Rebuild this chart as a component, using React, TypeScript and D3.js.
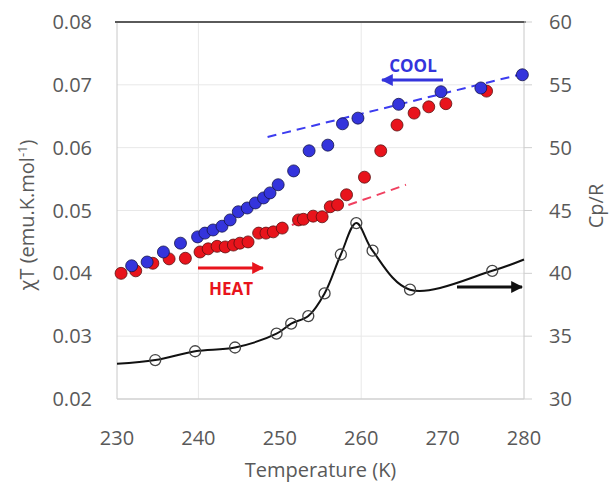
import React from "react";
import * as d3 from "d3";

// Heating (red) χT data: [T (K), χT]
const heatT = [230.5, 232.3, 234.4, 236.4, 238.4, 240.2, 241.2, 242.3, 243.3, 244.3, 245.1, 246.1, 247.4, 248.3, 249.2, 250.3, 252.3, 252.9, 254.1, 255.2, 256.2, 257.1, 258.2, 260.4, 262.4, 264.4, 266.5, 268.3, 270.4, 275.4];
const heatChi = [0.0400, 0.0404, 0.0416, 0.0423, 0.0424, 0.0434, 0.0439, 0.0443, 0.0442, 0.0445, 0.0448, 0.0450, 0.0464, 0.0464, 0.0466, 0.0472, 0.0485, 0.0486, 0.0491, 0.0490, 0.0506, 0.0509, 0.0525, 0.0553, 0.0595, 0.0636, 0.0655, 0.0665, 0.0670, 0.0690];

// Cooling (blue) χT data
const coolT = [231.8, 233.7, 235.7, 237.8, 239.9, 240.8, 241.8, 242.9, 243.9, 244.9, 246.0, 247.0, 248.0, 248.8, 249.8, 251.7, 253.6, 255.9, 257.7, 259.6, 264.6, 269.8, 274.7, 279.8];
const coolChi = [0.0412, 0.0418, 0.0434, 0.0448, 0.0458, 0.0464, 0.0469, 0.0475, 0.0485, 0.0498, 0.0504, 0.0512, 0.0520, 0.0528, 0.0541, 0.0563, 0.0595, 0.0604, 0.0638, 0.0647, 0.0669, 0.0689, 0.0695, 0.0716];

// Heat capacity Cp/R (open circles)
const cpT = [234.7, 239.6, 244.5, 249.6, 251.4, 253.5, 255.5, 257.5, 259.4, 261.4, 266.0, 276.1];
const cpVal = [33.1, 33.8, 34.1, 35.2, 36.0, 36.6, 38.4, 41.5, 44.0, 41.8, 38.7, 40.2];
// Fitted Cp curve end values
const cpCurveStart = [230, 32.8];
const cpCurveEnd = [280, 41.1];

// Dashed linear guides [T, χT]
const coolFit = [[248.5, 0.0617], [280, 0.0718]];
const heatFit = [[248, 0.0461], [265.5, 0.0541]];

const xTicks = [230, 240, 250, 260, 270, 280];
const yLTicks = [0.02, 0.03, 0.04, 0.05, 0.06, 0.07, 0.08];
const yRTicks = [30, 35, 40, 45, 50, 55, 60];
const xGrid = [240, 260];

const W = 610, H = 483;
const L = 117, R = 524, T = 22, B = 399;
const FONT = "'Open Sans', sans-serif";
const TXT = "#595959";

export default function App() {
  const x = d3.scaleLinear().domain([230, 280]).range([L, R]);
  const yL = d3.scaleLinear().domain([0.02, 0.08]).range([B, T]);
  const yR = d3.scaleLinear().domain([30, 60]).range([B, T]);

  const cpPts: [number, number][] = [cpCurveStart as [number, number], ...cpT.map((t, i) => [t, cpVal[i]] as [number, number]), cpCurveEnd as [number, number]];
  const cpLine = d3.line<[number, number]>().x(d => x(d[0])).y(d => yR(d[1])).curve(d3.curveCatmullRom.alpha(0.5))(cpPts) || "";
  const fitLine = d3.line<number[]>().x(d => x(d[0])).y(d => yL(d[1]));

  const blue = "#3434dc";
  const red = "#e8141c";

  return (
    <svg width={W} height={H} style={{ position: "absolute", left: 0, top: 0, background: "#fff" }}>
      <defs>
        <marker id="ab" viewBox="0 0 10 10" refX="9" refY="5" markerWidth="4" markerHeight="4" orient="auto-start-reverse">
          <path d="M0,0 L10,5 L0,10 z" fill={blue} />
        </marker>
        <marker id="ar" viewBox="0 0 10 10" refX="9" refY="5" markerWidth="4" markerHeight="4" orient="auto">
          <path d="M0,0 L10,5 L0,10 z" fill={red} />
        </marker>
        <marker id="ak" viewBox="0 0 10 10" refX="9" refY="5" markerWidth="4" markerHeight="4" orient="auto">
          <path d="M0,0 L10,5 L0,10 z" fill="#111" />
        </marker>
      </defs>
      {/* grid */}
      {yLTicks.slice(1, -1).map(v => (
        <line key={"gy" + v} x1={L} x2={R} y1={yL(v)} y2={yL(v)} stroke="#e8e8e8" strokeWidth={1} />
      ))}
      {xGrid.map(v => (
        <line key={"gx" + v} x1={x(v)} x2={x(v)} y1={T} y2={B} stroke="#e8e8e8" strokeWidth={1} />
      ))}
      {/* frame */}
      <line x1={L} x2={L} y1={T} y2={B} stroke="#c8c8c8" strokeWidth={1} />
      <line x1={R} x2={R} y1={T} y2={B} stroke="#c8c8c8" strokeWidth={1} />
      <line x1={L} x2={R} y1={B} y2={B} stroke="#d0d0d0" strokeWidth={1.5} />
      <line x1={L - 2} x2={R + 2} y1={T} y2={T} stroke="#5a5a5a" strokeWidth={2} />
      {yRTicks.map(v => (
        <line key={"rt" + v} x1={R} x2={R + 8} y1={yR(v)} y2={yR(v)} stroke="#cfcfcf" strokeWidth={1} />
      ))}

      {/* tick labels */}
      {xTicks.map(v => (
        <text key={"xt" + v} x={x(v)} y={445} textAnchor="middle" fontFamily={FONT} fontSize={20} fill={TXT}>{v}</text>
      ))}
      {yLTicks.map(v => (
        <text key={"yl" + v} x={92} y={yL(v) + 7} textAnchor="end" fontFamily={FONT} fontSize={20} fill={TXT}>{v.toFixed(2)}</text>
      ))}
      {yRTicks.map(v => (
        <text key={"yr" + v} x={549} y={yR(v) + 7} textAnchor="start" fontFamily={FONT} fontSize={20} fill={TXT}>{v}</text>
      ))}

      {/* axis titles */}
      <text x={(L + R) / 2} y={477} textAnchor="middle" fontFamily={FONT} fontSize={20} fill={TXT}>Temperature (K)</text>
      <text transform={`translate(34,215) rotate(-90)`} textAnchor="middle" fontFamily={FONT} fontSize={20} fill={TXT}>
        χT (emu.K.mol<tspan dy={-7} fontSize={13}>-1</tspan><tspan dy={7}>)</tspan>
      </text>
      <text transform={`translate(603,206) rotate(-90)`} textAnchor="middle" fontFamily={FONT} fontSize={20} fill={TXT}>Cp/R</text>

      {/* dashed fits */}
      <path d={fitLine(coolFit) || ""} fill="none" stroke="#3c3cf0" strokeWidth={2} strokeDasharray="9,6" />
      <path d={fitLine(heatFit) || ""} fill="none" stroke="#f04060" strokeWidth={2} strokeDasharray="9,6" />

      {/* Cp curve */}
      <path d={cpLine} fill="none" stroke="#111" strokeWidth={2} />
      {cpT.map((t, i) => (
        <circle key={"cp" + i} cx={x(t)} cy={yR(cpVal[i])} r={5.5} fill="none" stroke="#444" strokeWidth={1.3} />
      ))}

      {/* red heat points */}
      {heatT.map((t, i) => (
        <circle key={"h" + i} cx={x(t)} cy={yL(heatChi[i])} r={6} fill={red} stroke="#5a1010" strokeWidth={0.8} />
      ))}
      {/* blue cool points */}
      {coolT.map((t, i) => (
        <circle key={"c" + i} cx={x(t)} cy={yL(coolChi[i])} r={6} fill={blue} stroke="#14144a" strokeWidth={0.8} />
      ))}

      {/* annotations */}
      <text x={413} y={72} textAnchor="middle" fontFamily={FONT} fontWeight="bold" fontSize={17} fill={blue}>COOL</text>
      <line x1={443} x2={382} y1={80} y2={80} stroke={blue} strokeWidth={3} markerEnd="url(#ab)" />
      <text x={231} y={295} textAnchor="middle" fontFamily={FONT} fontWeight="bold" fontSize={17} fill={red}>HEAT</text>
      <line x1={198} x2={263} y1={268} y2={268} stroke={red} strokeWidth={3} markerEnd="url(#ar)" />
      <line x1={457} x2={522} y1={287} y2={287} stroke="#111" strokeWidth={3} markerEnd="url(#ak)" />
    </svg>
  );
}
